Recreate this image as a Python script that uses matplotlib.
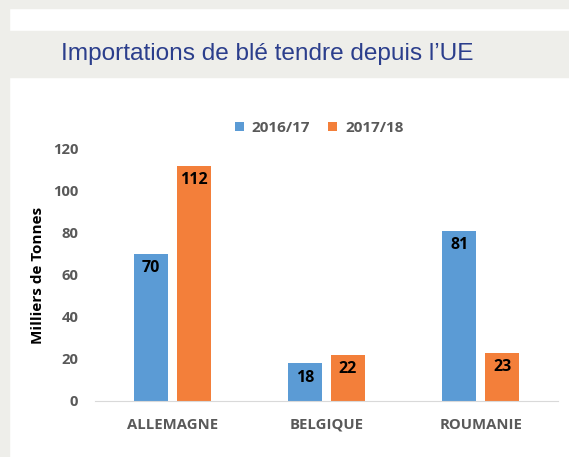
import numpy as np
import matplotlib.pyplot as plt
from matplotlib.patches import Rectangle

# donnees
pays = ['ALLEMAGNE', 'BELGIQUE', 'ROUMANIE']
saisons = ['2016/17', '2017/18']
v_2016 = [70, 18, 81]
v_2017 = [112, 22, 23]
couleurs = ['#5B9BD5', '#F37F3A']

W, H = 569, 457
fig = plt.figure(figsize=(W/100, H/100), dpi=100)
fig.patch.set_facecolor('white')
police = 'Open Sans'

gris = '#EEEEEA'
# bordures grises et bandeau du titre
fig.patches.append(Rectangle((0, 0), 9/W, 1, transform=fig.transFigure, color=gris, zorder=0))
fig.patches.append(Rectangle((0, 1-8/H), 1, 8/H, transform=fig.transFigure, color=gris, zorder=0))
fig.patches.append(Rectangle((9/W, 1-77/H), 1, 46/H, transform=fig.transFigure, color=gris, zorder=0))
fig.text(267.5/W, 1-54/H, "Importations de blé tendre depuis l\u2019UE",
         ha='center', va='center', fontsize=17.6, color='#2B3E8C',
         family=['Liberation Sans', 'DejaVu Sans'])

ax = fig.add_axes([95/W, (H-401)/H, (558-95)/W, (401-149)/H])
x = np.arange(len(pays))
w = 0.22
d = 0.139
b1 = ax.bar(x - d, v_2016, w, color=couleurs[0], label=saisons[0])
b2 = ax.bar(x + d, v_2017, w, color=couleurs[1], label=saisons[1])

for bars in (b1, b2):
    for r in bars:
        h = r.get_height()
        ax.text(r.get_x() + r.get_width()/2, h - 3, str(int(h)), ha='center', va='top',
                fontsize=11.5, fontweight='bold', color='black', family=police)

ax.set_xlim(-0.5, 2.5)
ax.set_ylim(0, 120)
ax.set_yticks(np.arange(0, 121, 20))
ax.set_xticks(x)
ax.set_xticklabels(pays)
for s in ['top', 'right', 'left']:
    ax.spines[s].set_visible(False)
ax.spines['bottom'].set_color('#D9D9D9')
ax.tick_params(axis='both', length=0, labelcolor='#595959', labelsize=10.7)
ax.tick_params(axis='y', pad=12)
ax.tick_params(axis='x', pad=12)
for lab in ax.get_xticklabels() + ax.get_yticklabels():
    lab.set_fontweight('bold')
    lab.set_family(police)
ax.set_ylabel('Milliers de Tonnes', fontsize=11, fontweight='bold', family=police, labelpad=6)

fig.legend(handles=[b1, b2], labels=saisons, loc='center', bbox_to_anchor=(319/W, 1-128/H),
           ncol=2, frameon=False, handlelength=0.6, handleheight=0.6, handletextpad=0.5,
           columnspacing=1.2, prop={'family': police, 'weight': 'bold', 'size': 11},
           labelcolor='#595959')

fig.savefig('out.png', dpi=100)
